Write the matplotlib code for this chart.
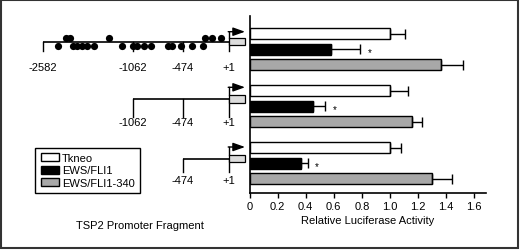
# TSP2 promoter fragments vs relative luciferase activity

import numpy as np
import matplotlib.pyplot as plt
from matplotlib.patches import Rectangle, Patch

plt.rcParams['font.family'] = ['Liberation Sans', 'DejaVu Sans']
plt.rcParams['font.size'] = 8

# Data
series = ['Tkneo', 'EWS/FLI1', 'EWS/FLI1-340']
fragments = ['-2582', '-1062', '-474']
tkneo = [1.0, 1.0, 1.0]
tkneo_err = [0.11, 0.13, 0.08]
ews_fli1 = [0.58, 0.45, 0.37]
ews_fli1_err = [0.21, 0.09, 0.045]
ews_fli1_340 = [1.36, 1.155, 1.30]
ews_fli1_340_err = [0.16, 0.075, 0.14]
significant = [True, True, True]  # EWS/FLI1 marked with *
x_ticks = [0, 0.2, 0.4, 0.6, 0.8, 1.0, 1.2, 1.4, 1.6]
x_tick_labels = ['0', '0.2', '0.4', '0.6', '0.8', '1.0', '1.2', '1.4', '1.6']

# schematic: landmark labels and sites along the longest fragment (schematic units)
landmarks = ['-2582', '-1062', '-474', '+1']
sites_above = [66, 70, 108.5, 204.5, 212.3, 220.7]
sites_below = [57.5, 72.7, 77.3, 81.7, 86.7, 93.7, 121.7, 133.3, 136.7,
               144, 151, 168.3, 171.7, 181, 191.7, 203]

colors = ['white', 'black', '#a8a8a8']

# layout (pixels)
W, H = 520, 251
landmark_x = {'-2582': 43.3, '-1062': 133.3, '-474': 182.7, '+1': 228.7}
line_y = [42.7, 100, 159.7]
tick_end = [51.7, 118, 173]
label_y = [67.7, 123.3, 181.5]
arrow_y = [32.7, 88.3, 148]

fig = plt.figure(figsize=(W / 100, H / 100), dpi=100)

# overlay for the schematic, in pixel coordinates
ov = fig.add_axes([0, 0, 1, 1], zorder=0)
ov.set_xlim(0, W)
ov.set_ylim(H, 0)
ov.axis('off')

# bar chart axes
x0, x1, ytop, ybot = 249.5, 485.5, 17, 194
ax = fig.add_axes([x0 / W, 1 - ybot / H, (x1 - x0) / W, (ybot - ytop) / H], zorder=1)
ax.patch.set_visible(False)

group_gap = 3.67
bar_h = 0.71
vals = [tkneo, ews_fli1, ews_fli1_340]
errs = [tkneo_err, ews_fli1_err, ews_fli1_340_err]
handles = []
for s in range(3):
    y = [g * group_gap + s for g in range(len(fragments))]
    ax.barh(y, vals[s], height=bar_h, color=colors[s], edgecolor='black', linewidth=1.0)
    ax.errorbar(vals[s], y, xerr=[[0] * 3, errs[s]], fmt='none', ecolor='black',
                elinewidth=1.0, capsize=3.6, capthick=1.0)
    handles.append(Patch(facecolor=colors[s], edgecolor='black', linewidth=1.0, label=series[s]))

for g in range(len(fragments)):
    if significant[g]:
        ax.text(ews_fli1[g] + ews_fli1_err[g] + 0.05, g * group_gap + 1 + 0.2, '*',
                fontsize=7, ha='left', va='center')

ax.set_xlim(0, (x1 - x0) / 140.5)
ax.set_ylim(10.26, -1.16)
ax.set_xticks(x_ticks)
ax.set_xticklabels(x_tick_labels)
ax.set_yticks([])
ax.spines['top'].set_visible(False)
ax.spines['right'].set_visible(False)
ax.spines['left'].set_linewidth(1.2)
ax.spines['bottom'].set_linewidth(1.2)
ax.tick_params(axis='x', direction='out', length=3.5, width=1.0, pad=2.5, labelsize=8)
ax.set_xlabel('Relative Luciferase Activity', fontsize=8, labelpad=2.5)

# promoter schematics
for g, frag in enumerate(fragments):
    marks = landmarks[landmarks.index(frag):]
    xs = [landmark_x[m] for m in marks]
    ly = line_y[g]
    ov.plot([xs[0], xs[-1]], [ly, ly], color='black', lw=1.2, solid_capstyle='butt')
    for m, xm in zip(marks, xs):
        ov.plot([xm, xm], [ly, tick_end[g]], color='black', lw=1.0)
        ov.text(xm, label_y[g], m, ha='center', va='center', fontsize=8)
    # reporter box
    bx = landmark_x['+1']
    ov.add_patch(Rectangle((bx, ly - 4), 16.3, 7.5, facecolor='#dcdcdc',
                           edgecolor='black', lw=0.9, zorder=3))
    # transcription start arrow
    ov.plot([bx, bx], [ly - 4, arrow_y[g]], color='black', lw=1.0)
    ov.annotate('', xy=(245, arrow_y[g]), xytext=(bx - 0.5, arrow_y[g]),
                arrowprops=dict(arrowstyle='-|>,head_length=0.45,head_width=0.16',
                                mutation_scale=16, color='black', lw=1.0,
                                shrinkA=0, shrinkB=0))

ov.scatter(sites_above, [line_y[0] - 3.4] * len(sites_above), s=27, color='black', zorder=4, linewidths=0)
ov.scatter(sites_below, [line_y[0] + 3.8] * len(sites_below), s=27, color='black', zorder=4, linewidths=0)

ov.text(140, 226, 'TSP2 Promoter Fragment', ha='center', va='center', fontsize=8)

leg = ov.legend(handles=handles, loc='upper left', bbox_to_anchor=(35, 148.7),
                bbox_transform=ov.transData, borderaxespad=0, fancybox=False,
                framealpha=1, edgecolor='black', fontsize=8, handlelength=1.65,
                handleheight=0.75, handletextpad=0.25, labelspacing=0.2,
                borderpad=0.5)
leg.get_frame().set_linewidth(1.0)

# outer frame
ov.add_patch(Rectangle((1, 1), W - 3, H - 3, fill=False, edgecolor='#333333', lw=1.5))

plt.savefig('out.png', dpi=100)
